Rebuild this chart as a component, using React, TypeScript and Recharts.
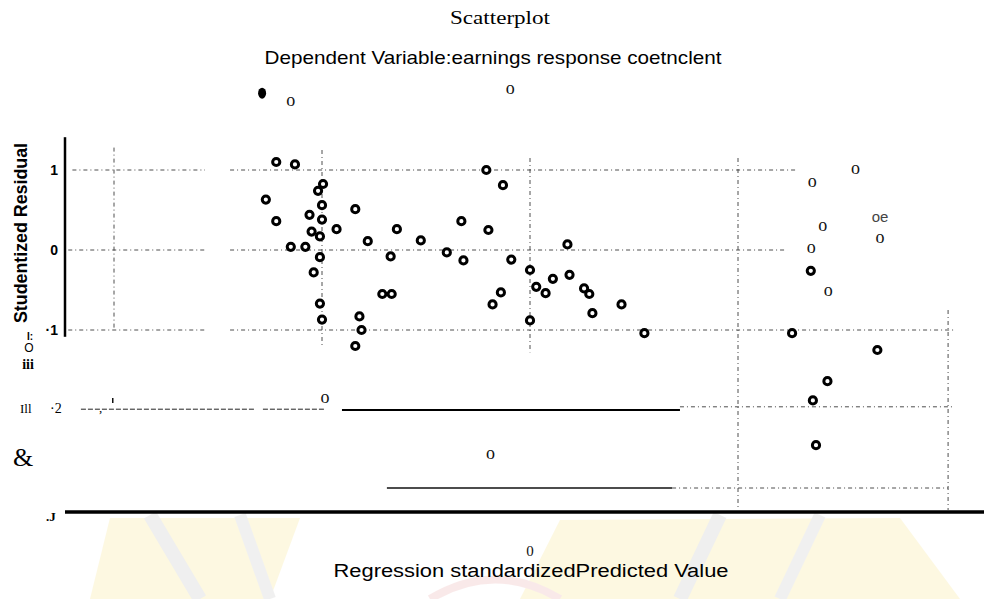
import { ScatterChart, Scatter, XAxis, YAxis, ReferenceLine } from 'recharts';

// regression standardized predicted value (x) vs studentized residual (y)
const ringPoints = [
  { x: -1.22, y: 1.1 }, { x: -1.13, y: 1.07 }, { x: -0.995, y: 0.825 }, { x: -1.019, y: 0.74 },
  { x: -1.27, y: 0.63 }, { x: -1.0, y: 0.56 }, { x: -0.84, y: 0.51 }, { x: -1.06, y: 0.44 },
  { x: -1.22, y: 0.36 }, { x: -1.0, y: 0.38 }, { x: -0.93, y: 0.26 }, { x: -0.64, y: 0.26 },
  { x: -1.05, y: 0.23 }, { x: -1.01, y: 0.17 }, { x: -0.78, y: 0.11 }, { x: -1.15, y: 0.04 },
  { x: -1.08, y: 0.04 }, { x: -1.01, y: -0.09 }, { x: -0.67, y: -0.08 }, { x: -1.04, y: -0.28 },
  { x: -0.71, y: -0.55 }, { x: -0.665, y: -0.55 }, { x: -1.01, y: -0.67 }, { x: -1.0, y: -0.87 },
  { x: -0.82, y: -0.83 }, { x: -0.81, y: -1.0 }, { x: -0.84, y: -1.2 },
  { x: -0.21, y: 1.0 }, { x: -0.13, y: 0.81 }, { x: -0.33, y: 0.36 }, { x: -0.2, y: 0.25 },
  { x: -0.525, y: 0.12 }, { x: -0.4, y: -0.03 }, { x: -0.32, y: -0.13 }, { x: -0.09, y: -0.12 },
  { x: 0.0, y: -0.25 }, { x: 0.11, y: -0.36 }, { x: 0.03, y: -0.46 }, { x: 0.075, y: -0.54 },
  { x: -0.14, y: -0.53 }, { x: -0.18, y: -0.68 }, { x: 0.0, y: -0.88 },
  { x: 0.18, y: 0.07 }, { x: 0.19, y: -0.31 }, { x: 0.26, y: -0.48 }, { x: 0.285, y: -0.55 },
  { x: 0.44, y: -0.68 }, { x: 0.3, y: -0.79 }, { x: 0.55, y: -1.04 },
  { x: 1.35, y: -0.26 }, { x: 1.26, y: -1.04 }, { x: 1.67, y: -1.25 }, { x: 1.43, y: -1.64 },
  { x: 1.36, y: -1.88 }, { x: 1.375, y: -2.44 },
];

// points that came out of the scan as letters
const letterPoints = [
  { x: -1.15, y: 1.85, label: 'o' }, { x: -0.095, y: 2.0, label: 'o' },
  { x: -0.985, y: -1.86, label: 'o' }, { x: -0.19, y: -2.56, label: 'o' },
  { x: 1.565, y: 1.0, label: 'o' }, { x: 1.357, y: 0.846, label: 'o' },
  { x: 1.683, y: 0.41, label: 'oe' }, { x: 1.407, y: 0.284, label: 'o' },
  { x: 1.683, y: 0.134, label: 'o' }, { x: 1.352, y: 0.021, label: 'o' },
  { x: 1.434, y: -0.52, label: 'o' },
];

const filledPoints = [{ x: -1.288, y: 1.96 }];

const yTicks = [1, 0, -1];
const xTicks = [0];

const X_DOMAIN: [number, number] = [-2.2356, 2.1827];
const Y_DOMAIN: [number, number] = [-3.275, 2.1625];

type Seg = { x1: number; x2: number; y1: number; y2: number; kind: 'dot' | 'solid' | 'thick' | 'dash' | 'axis' };

// broken reference grid as it appears in the scan
const GRID: Seg[] = [
  { x1: -2.2, x2: -1.5625, y1: 1, y2: 1, kind: 'dot' },
  { x1: -1.442, x2: 1.284, y1: 1, y2: 1, kind: 'dot' },
  { x1: -2.22, x2: -1.5625, y1: 0, y2: 0, kind: 'dot' },
  { x1: -1.442, x2: 1.236, y1: 0, y2: 0, kind: 'dot' },
  { x1: -2.22, x2: -1.5625, y1: -1, y2: -1, kind: 'dot' },
  { x1: -1.442, x2: 2.043, y1: -1, y2: -1, kind: 'dot' },
  { x1: -2.159, x2: -1.322, y1: -1.99, y2: -1.99, kind: 'dash' },
  { x1: -1.284, x2: -0.986, y1: -1.99, y2: -1.99, kind: 'dash' },
  { x1: -0.904, x2: 0.721, y1: -2.0, y2: -2.0, kind: 'thick' },
  { x1: 0.721, x2: 2.043, y1: -1.96, y2: -1.96, kind: 'dot' },
  { x1: -0.688, x2: 0.683, y1: -2.975, y2: -2.975, kind: 'solid' },
  { x1: 0.683, x2: 2.01, y1: -2.975, y2: -2.975, kind: 'dot' },
  { x1: -2.0, x2: -2.0, y1: 1.28, y2: -1.0, kind: 'dot' },
  { x1: -1.0, x2: -1.0, y1: 1.25, y2: -1.19, kind: 'dot' },
  { x1: 0.0, x2: 0.0, y1: 1.15, y2: -1.28, kind: 'dot' },
  { x1: 1.0, x2: 1.0, y1: 1.15, y2: -3.25, kind: 'dot' },
  { x1: 2.01, x2: 2.01, y1: -0.75, y2: -3.25, kind: 'dot' },
  { x1: -2.2356, x2: -2.2356, y1: 1.41, y2: -1.085, kind: 'axis' },
];

const SEG_STYLE: Record<Seg['kind'], { stroke: string; strokeWidth: number; strokeDasharray?: string }> = {
  dot: { stroke: '#3a3a3a', strokeWidth: 0.9, strokeDasharray: '4 3 1 3' },
  solid: { stroke: '#111', strokeWidth: 1.3 },
  thick: { stroke: '#000', strokeWidth: 2.2 },
  dash: { stroke: '#222', strokeWidth: 1, strokeDasharray: '5 2' },
  axis: { stroke: '#000', strokeWidth: 2.5 },
};

const SERIF = '"Liberation Serif", "Times New Roman", serif';
const SANS = '"Liberation Sans", Arial, sans-serif';

function Ring(props: any) {
  const { cx, cy } = props;
  return <circle cx={cx} cy={cy} r={3.6} fill="#fff" stroke="#000" strokeWidth={3} />;
}

function Blob(props: any) {
  const { cx, cy } = props;
  return <ellipse cx={cx} cy={cy} rx={4} ry={5.5} fill="#000" />;
}

function Letter(props: any) {
  const { cx, cy, payload } = props;
  const isOe = payload.label === 'oe';
  return (
    <text
      x={cx}
      y={cy + (isOe ? 4.5 : 4.2)}
      textAnchor="middle"
      fontFamily={isOe ? SANS : SERIF}
      fontSize={isOe ? 15 : 18}
      fill={isOe ? '#444' : '#111'}
    >
      {payload.label}
    </text>
  );
}

const fmtY = (v: number) => (v < 0 ? `·${-v}` : String(v));

export default function App() {
  return (
    <div style={{ position: 'absolute', left: 0, top: 0, width: 984, height: 599, background: '#fff' }}>
      {/* faint watermark left in the scan */}
      <svg width={984} height={599} style={{ position: 'absolute', left: 0, top: 0 }}>
        <g opacity={0.22}>
          <polygon points="560,520 900,518 960,599 520,599" fill="#f7e27a" />
          <polygon points="110,518 300,518 270,599 90,599" fill="#f7e27a" />
          <line x1={150} y1={515} x2={200} y2={599} stroke="#b8b8b8" strokeWidth={14} />
          <line x1={240} y1={515} x2={270} y2={599} stroke="#c0c0c0" strokeWidth={12} />
          <line x1={720} y1={515} x2={680} y2={599} stroke="#b8b8b8" strokeWidth={14} />
          <line x1={820} y1={515} x2={780} y2={599} stroke="#c0c0c0" strokeWidth={12} />
          <path d="M 430 599 Q 495 560 560 599" fill="none" stroke="#e8a0a0" strokeWidth={8} />
        </g>
      </svg>

      <div style={{ position: 'absolute', left: 0, top: 0 }}>
        <ScatterChart width={984} height={599} margin={{ top: 77, right: 0, bottom: 0, left: 0 }}>
          <XAxis
            type="number"
            dataKey="x"
            domain={X_DOMAIN}
            ticks={xTicks}
            allowDataOverflow
            height={87}
            tickLine={false}
            tickSize={0}
            tickMargin={33}
            axisLine={{ stroke: '#000', strokeWidth: 3.5 }}
            tick={{ fontFamily: SERIF, fontSize: 15, fill: '#111' }}
          />
          <YAxis
            type="number"
            dataKey="y"
            domain={Y_DOMAIN}
            ticks={yTicks}
            allowDataOverflow
            width={65}
            axisLine={false}
            tickLine={false}
            tickSize={0}
            tickMargin={7}
            tickFormatter={fmtY}
            tick={{ fontFamily: SANS, fontSize: 14, fontWeight: 700, fill: '#000' }}
          />
          {GRID.map((s, i) => (
            <ReferenceLine
              key={i}
              segment={[{ x: s.x1, y: s.y1 }, { x: s.x2, y: s.y2 }]}
              ifOverflow="visible"
              {...SEG_STYLE[s.kind]}
            />
          ))}
          <Scatter data={ringPoints} shape={Ring} isAnimationActive={false} />
          <Scatter data={letterPoints} shape={Letter} isAnimationActive={false} />
          <Scatter data={filledPoints} shape={Blob} isAnimationActive={false} />
        </ScatterChart>
      </div>

      <svg
        width={984}
        height={599}
        style={{ position: 'absolute', left: 0, top: 0, pointerEvents: 'none' }}
      >
        <text x={500} y={24} textAnchor="middle" fontFamily={SERIF} fontSize={18} textLength={100} lengthAdjust="spacingAndGlyphs">
          Scatterplot
        </text>
        <text x={493} y={64} textAnchor="middle" fontFamily={SANS} fontSize={19} textLength={457} lengthAdjust="spacingAndGlyphs">
          Dependent Variable:earnings response coetnclent
        </text>
        <text x={531} y={577} textAnchor="middle" fontFamily={SANS} fontSize={18} textLength={395} lengthAdjust="spacingAndGlyphs">
          Regression standardizedPredicted Value
        </text>
        <text
          transform="translate(27,233) rotate(-90)"
          textAnchor="middle"
          fontFamily={SANS}
          fontSize={18}
          fontWeight={700}
          textLength={180}
          lengthAdjust="spacingAndGlyphs"
        >
          Studentized Residual
        </text>
        <text x={30} y={340} textAnchor="middle" fontFamily={SANS} fontSize={10} fontWeight={700}>I:</text>
        <text x={29} y={352} textAnchor="middle" fontFamily={SANS} fontSize={12}>O</text>
        <text x={28} y={369} textAnchor="middle" fontFamily={SERIF} fontSize={14} fontWeight={700}>iii</text>
        <text x={20} y={413} fontFamily={SERIF} fontSize={13}>Ill</text>
        <text x={50} y={413} fontFamily={SERIF} fontSize={14}>·2</text>
        <text x={99} y={412} fontFamily={SERIF} fontSize={13}>,</text>
        <rect x={112} y={398} width={1.5} height={5} fill="#111" />
        <text x={13} y={466} fontFamily={SERIF} fontSize={26}>&amp;</text>
        <text x={46} y={521} fontFamily={SERIF} fontSize={13} fontWeight={700}>.J</text>
      </svg>
    </div>
  );
}
